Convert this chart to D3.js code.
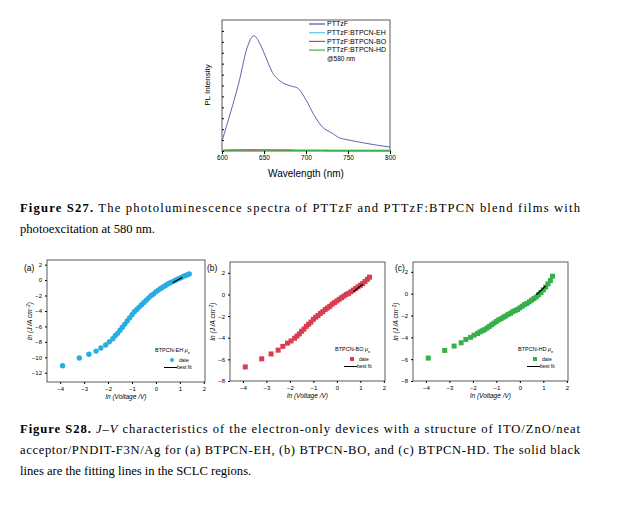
<!DOCTYPE html>
<html lang="en">
<head>
<meta charset="utf-8">
<title>PL and J-V</title>
<script src="https://cdn.jsdelivr.net/npm/d3@7"></script>
<style>
  body { margin: 0; background: #fff; }
  text { font-family: "Liberation Sans", Arial, sans-serif; }
  .cap { font-family: "Liberation Serif", "Times New Roman", serif; font-size: 12.6px; }
</style>
</head>
<body>
<script>
// ---- PL spectra (top) ----
var plWave = [600, 610, 620, 630, 638, 645, 650, 660, 670, 680, 690, 700, 710, 720, 730, 740, 750, 770, 800]
var plPTTzF = [0.076, 0.29, 0.52, 0.79, 0.88, 0.82, 0.75, 0.60, 0.53, 0.50, 0.48, 0.39, 0.27, 0.18, 0.14, 0.10, 0.085, 0.06, 0.03]
var plBlend = [0.005, 0.006, 0.007, 0.008, 0.008, 0.007, 0.007, 0.006, 0.006, 0.006, 0.005, 0.005, 0.005, 0.005, 0.004, 0.004, 0.004, 0.004, 0.004]
var plNames = ["PTTzF", "PTTzF:BTPCN-EH", "PTTzF:BTPCN-BO", "PTTzF:BTPCN-HD"]
var plColors = ["#4a56a6", "#5bc8ef", "#d9404f", "#3fb24e"]

// ---- J-V (bottom), x = ln(V) ----
var lnV = [-3.9, -3.2, -2.8, -2.5, -2.3, -2.1, -1.95, -1.8, -1.7, -1.6, -1.5, -1.4, -1.3, -1.2, -1.1, -1.0, -0.9, -0.8, -0.7, -0.6, -0.5, -0.4, -0.3, -0.2, -0.1, 0, 0.1, 0.2, 0.3, 0.4, 0.5, 0.6, 0.7, 0.8, 0.9, 1.0, 1.1, 1.2, 1.3, 1.39]
var lnJ_EH = [-11.1, -10.1, -9.6, -9.2, -8.8, -8.4, -8.0, -7.6, -7.2, -6.9, -6.5, -6.1, -5.7, -5.3, -4.9, -4.5, -4.1, -3.8, -3.5, -3.2, -2.9, -2.6, -2.3, -2.0, -1.8, -1.5, -1.3, -1.1, -0.9, -0.7, -0.5, -0.35, -0.2, -0.05, 0.1, 0.25, 0.4, 0.55, 0.65, 0.8]
var lnJ_BO = [-6.7, -5.95, -5.5, -5.15, -4.8, -4.5, -4.3, -4.05, -3.85, -3.65, -3.4, -3.2, -2.95, -2.75, -2.55, -2.3, -2.1, -1.95, -1.75, -1.6, -1.4, -1.25, -1.1, -0.9, -0.75, -0.6, -0.45, -0.3, -0.15, 0, 0.1, 0.25, 0.4, 0.55, 0.7, 0.85, 1.0, 1.2, 1.4, 1.6]
var lnJ_HD = [-5.9, -5.2, -4.8, -4.5, -4.2, -4.0, -3.8, -3.65, -3.5, -3.4, -3.3, -3.15, -3.0, -2.85, -2.7, -2.55, -2.4, -2.3, -2.15, -2.05, -1.9, -1.8, -1.65, -1.55, -1.45, -1.3, -1.15, -1.0, -0.9, -0.75, -0.6, -0.45, -0.3, -0.1, 0.1, 0.35, 0.6, 0.9, 1.2, 1.6]
var fitEH = [[0.7, -0.35], [1.1, 0.35]]
var fitBO = [[0.7, 0.25], [1.1, 0.95]]
var fitHD = [[0.7, -0.1], [1.1, 0.7]]

var svg = d3.select("body").append("svg").attr("width", 617).attr("height", 517)

// PL chart
var px = d3.scaleLinear().domain([600, 800]).range([222, 390])
var py = d3.scaleLinear().domain([0, 1.0]).range([151, 20])
var pl = svg.append("g")
pl.append("rect").attr("x", 222).attr("y", 20).attr("width", 168).attr("height", 131)
  .attr("fill", "none").attr("stroke", "#333").attr("stroke-width", 0.8)
pl.append("g").attr("transform", "translate(0,151)")
  .call(d3.axisBottom(px).tickValues([600, 650, 700, 750, 800]).tickSize(3).tickSizeOuter(0))
  .call(g => g.select(".domain").remove())
  .call(g => g.selectAll("text").attr("font-size", 6.5).attr("dy", "0.5em"))
pl.append("g").attr("transform", "translate(222,0)")
  .call(d3.axisRight(py).tickValues(d3.range(0, 12).map(i => i / 12)).tickSize(2).tickFormat(""))
  .call(g => g.select(".domain").remove())
var line = d3.line().x((d, i) => px(plWave[i])).y(d => py(d)).curve(d3.curveMonotoneX)
;[plBlend.map(v => v + 0.002), plBlend.map(v => v - 0.001), plBlend, plPTTzF].forEach(function (s, k) {
  var c = [plColors[1], plColors[2], plColors[3], plColors[0]][k]
  pl.append("path").attr("d", line(s)).attr("fill", "none").attr("stroke", c).attr("stroke-width", k == 3 ? 0.9 : 1.2)
})
plNames.forEach(function (n, i) {
  var y = 24 + i * 8.7
  pl.append("line").attr("x1", 309).attr("x2", 325).attr("y1", y).attr("y2", y).attr("stroke", plColors[i]).attr("stroke-width", 1.2)
  pl.append("text").attr("x", 327).attr("y", y + 2.3).attr("font-size", 7).text(n)
})
pl.append("text").attr("x", 327).attr("y", 60.5).attr("font-size", 6.5).text("@580 nm")
pl.append("text").attr("x", 306).attr("y", 177).attr("text-anchor", "middle").attr("font-size", 10).text("Wavelength (nm)")
pl.append("text").attr("transform", "translate(210,85) rotate(-90)").attr("text-anchor", "middle").attr("font-size", 8).text("PL Intensity")

// J-V panels
var panels = [
  { x0: 47, x1: 205, y0: 260, y1: 382, yd: [-13.2, 2.6], yt: d3.range(-12, 3, 2), data: lnJ_EH, fit: fitEH, col: "#27aee0", mark: "circle", lab: "(a)", lx: 24, name: "BTPCN-EH" },
  { x0: 230, x1: 385, y0: 262, y1: 381, yd: [-8, 3], yt: d3.range(-8, 3, 2), data: lnJ_BO, fit: fitBO, col: "#d93d50", mark: "square", lab: "(b)", lx: 207, name: "BTPCN-BO" },
  { x0: 413, x1: 568, y0: 262, y1: 381, yd: [-8, 2.9], yt: d3.range(-8, 3, 2), data: lnJ_HD, fit: fitHD, col: "#35b04a", mark: "square", lab: "(c)", lx: 395, name: "BTPCN-HD" }
]
panels.forEach(function (p) {
  var g = svg.append("g")
  var x = d3.scaleLinear().domain([-4.55, 2.05]).range([p.x0, p.x1])
  var y = d3.scaleLinear().domain(p.yd).range([p.y1, p.y0])
  g.append("rect").attr("x", p.x0).attr("y", p.y0).attr("width", p.x1 - p.x0).attr("height", p.y1 - p.y0)
    .attr("fill", "none").attr("stroke", "#333").attr("stroke-width", 0.8)
  g.append("g").attr("transform", "translate(0," + p.y1 + ")")
    .call(d3.axisBottom(x).tickValues([-4, -3, -2, -1, 0, 1, 2]).tickFormat(d3.format("d")).tickSize(2).tickSizeOuter(0))
    .call(a => a.select(".domain").remove())
    .call(a => a.selectAll("text").attr("font-size", 6))
  g.append("g").attr("transform", "translate(" + p.x0 + ",0)")
    .call(d3.axisLeft(y).tickValues(p.yt).tickFormat(d3.format("d")).tickSize(2).tickSizeOuter(0))
    .call(a => a.select(".domain").remove())
    .call(a => a.selectAll("text").attr("font-size", 6))
  if (p.mark == "circle") {
    g.selectAll(".pt").data(p.data).enter().append("circle")
      .attr("cx", (d, i) => x(lnV[i])).attr("cy", d => y(d)).attr("r", 2.7).attr("fill", p.col)
  } else {
    g.selectAll(".pt").data(p.data).enter().append("rect")
      .attr("x", (d, i) => x(lnV[i]) - 2.5).attr("y", d => y(d) - 2.5).attr("width", 5).attr("height", 5).attr("fill", p.col)
  }
  g.append("line").attr("x1", x(p.fit[0][0])).attr("y1", y(p.fit[0][1])).attr("x2", x(p.fit[1][0])).attr("y2", y(p.fit[1][1]))
    .attr("stroke", "#000").attr("stroke-width", 1.2)
  g.append("text").attr("x", p.lx).attr("y", 271).attr("font-size", 8.5).text(p.lab)
  var lxp = p.x1 - 50, lyp = p.y1 - 30
  var t = g.append("text").attr("x", lxp).attr("y", lyp).attr("font-size", 5.5).text(p.name + " ")
  t.append("tspan").attr("font-style", "italic").text("μ")
  t.append("tspan").attr("font-size", 4).attr("dy", 1.5).text("e")
  if (p.mark == "circle") g.append("circle").attr("cx", lxp + 17).attr("cy", lyp + 8).attr("r", 2).attr("fill", p.col)
  else g.append("rect").attr("x", lxp + 15).attr("y", lyp + 6).attr("width", 4).attr("height", 4).attr("fill", p.col)
  g.append("text").attr("x", lxp + 24).attr("y", lyp + 10).attr("font-size", 5).text("date")
  g.append("line").attr("x1", lxp + 9).attr("x2", lxp + 22).attr("y1", lyp + 15.5).attr("y2", lyp + 15.5).attr("stroke", "#000").attr("stroke-width", 1)
  g.append("text").attr("x", lxp + 22).attr("y", lyp + 17).attr("font-size", 5).text("best fit")
  var xl = g.append("text").attr("x", (p.x0 + p.x1) / 2).attr("y", p.y1 + 17).attr("text-anchor", "middle").attr("font-size", 6.5).attr("font-style", "italic")
  xl.append("tspan").text("ln")
  xl.append("tspan").text(" (Voltage /V)")
  var yl = g.append("text").attr("transform", "translate(" + (p.x0 - 15) + "," + ((p.y0 + p.y1) / 2) + ") rotate(-90)")
    .attr("text-anchor", "middle").attr("font-size", 6.5).attr("font-style", "italic")
  yl.append("tspan").text("ln (J /A cm")
  yl.append("tspan").attr("font-size", 4.5).attr("dy", -2.5).text("−2")
  yl.append("tspan").attr("dy", 2.5).text(")")
})

// captions
function capLine(y, parts, full) {
  var t = svg.append("text").attr("class", "cap").attr("x", 20).attr("y", y)
  if (full) t.attr("textLength", 560).attr("lengthAdjust", "spacing")
  parts.forEach(function (p) {
    var s = t.append("tspan").text(p[0])
    if (p[1] == "b") s.attr("font-weight", "bold")
    if (p[1] == "i") s.attr("font-style", "italic")
  })
}
capLine(212, [["Figure S27.", "b"], [" The photoluminescence spectra of PTTzF and PTTzF:BTPCN blend films with"]], true)
capLine(233, [["photoexcitation at 580 nm."]], false)
capLine(433, [["Figure S28.", "b"], [" "], ["J", "i"], ["–"], ["V", "i"], [" characteristics of the electron-only devices with a structure of ITO/ZnO/neat"]], true)
capLine(454, [["acceptor/PNDIT-F3N/Ag for (a) BTPCN-EH, (b) BTPCN-BO, and (c) BTPCN-HD. The solid black"]], true)
capLine(475, [["lines are the fitting lines in the SCLC regions."]], false)
</script>
</body>
</html>
